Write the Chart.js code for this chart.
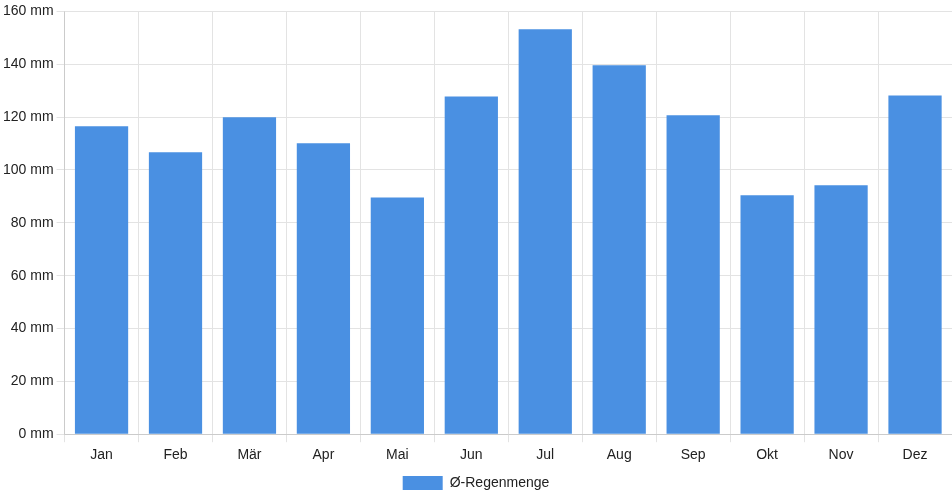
<!DOCTYPE html>
<html>
<head>
<meta charset="utf-8">
<script src="https://cdn.jsdelivr.net/npm/chart.js@4"></script>
<style>
  html, body { margin: 0; padding: 0; background: #fff; }
  #wrap { width: 952px; height: 500px; }
</style>
</head>
<body>
<div id="wrap"><canvas id="myChart"></canvas></div>
<script>
// Monatsnamen und Niederschlag (mm)
const months = ['Jan', 'Feb', 'Mär', 'Apr', 'Mai', 'Jun', 'Jul', 'Aug', 'Sep', 'Okt', 'Nov', 'Dez'];
const rainfall = [116.5, 106.7, 119.9, 110.1, 89.6, 127.8, 153.2, 139.6, 120.7, 90.4, 94.2, 128.2];
const seriesLabel = 'Ø-Regenmenge';

Chart.defaults.font.family = '"Liberation Sans", Arial, sans-serif';
Chart.defaults.font.size = 14;
Chart.defaults.color = '#222';

const config = {
  type: 'bar',
  data: {
    labels: months,
    datasets: [{
      label: seriesLabel,
      data: rainfall,
      backgroundColor: '#4a90e2',
      borderWidth: 0
    }]
  },
  options: {
    responsive: true,
    maintainAspectRatio: false,
    animation: false,
    layout: { padding: { right: 0, top: 3, left: 0, bottom: 0 } },
    scales: {
      x: {
        grid: { color: '#e3e3e3' },
        ticks: { padding: 5 }
      },
      y: {
        min: 0,
        max: 160,
        grid: { color: '#e3e3e3' },
        ticks: {
          stepSize: 20,
          callback: (v) => v + ' mm'
        }
      }
    },
    plugins: {
      legend: {
        position: 'bottom',
        labels: { boxWidth: 40, boxHeight: 14, padding: 7 }
      },
      tooltip: { enabled: false }
    }
  }
};

new Chart(document.getElementById('myChart'), config);
</script>
</body>
</html>
